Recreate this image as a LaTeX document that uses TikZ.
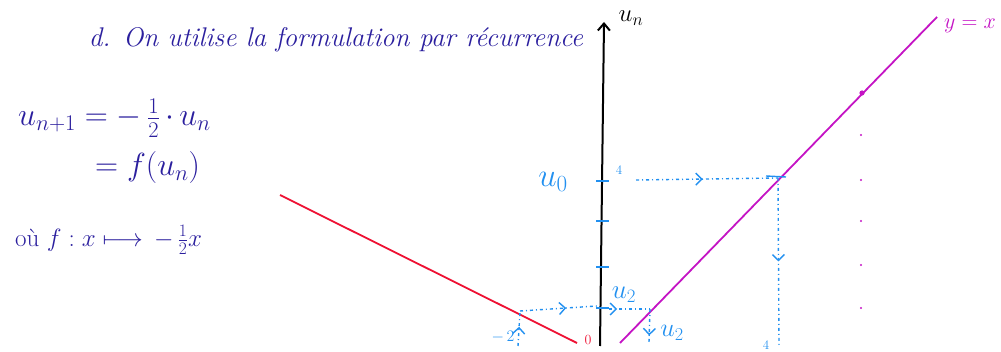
\RequirePackage{fix-cm}
\documentclass[tikz,border=0pt]{standalone}
\usetikzlibrary{arrows.meta,decorations.markings}
\definecolor{ink}{HTML}{2B1F9E}
\definecolor{sky}{HTML}{2290F0}
\definecolor{redl}{HTML}{EE1133}
\definecolor{mag}{HTML}{C414C4}
\tikzset{
  title/.style={text=ink,font=\fontsize{27}{31}\selectfont\itshape,inner sep=0pt},
  formula/.style={text=ink,font=\fontsize{32}{36}\selectfont,inner sep=0pt,anchor=west},
  lab/.style={text=sky,font=\fontsize{28}{32}\selectfont,inner sep=0pt},
  smalllab/.style={text=sky,font=\fontsize{13}{15}\selectfont,inner sep=0pt},
  dotline/.style={sky,line width=1.4pt,dash pattern=on 3pt off 3pt on 1pt off 3pt},
  midarrow/.style={postaction={decorate},decoration={markings,mark=at position #1 with {\arrow[sky,line width=1.4pt]{Straight Barb[length=6pt,width=12pt]}}}},
  tick/.style={sky,line width=1.6pt},
  axisline/.style={black,line width=2pt},
}
\begin{document}
\begin{tikzpicture}[x=1pt,y=-1pt]
\useasboundingbox (0,0) rectangle (1001,352);
% title
\node[title] (ttl) at (336,40) {d. On utilise la formulation par récurrence};
% left formulas
\node[formula] (f1) at (18,118) {$u_{n+1} = -\,\frac{1}{2}\,{\cdot}\, u_n$};
\node[formula] (f2) at (95,168) {$= f(u_n)$};
\node[formula,font=\fontsize{25}{29}\selectfont] (f3) at (15,240) {où $f : x \longmapsto \, -\,\frac{1}{2}x$};
% axis
\coordinate (ab) at (600,346);
\coordinate (at) at (604,22);
\draw[axisline,-{Straight Barb[length=7pt,width=12pt]}] (ab) -- (at);
\node[text=black,font=\fontsize{25}{29}\selectfont,inner sep=0pt] (un) at (631,18) {$u_n$};
% ticks
\foreach \y/\n in {181/t4,221/t3,267/t2,308/t1}{
  \coordinate (\n a) at (596,\y);
  \coordinate (\n b) at (609,\y);
  \draw[tick] (\n a) -- (\n b);
}
\node[smalllab] (four) at (619,170) {4};
\node[lab,font=\fontsize{33}{37}\selectfont] (u0) at (553,182) {$u_0$};
\node[lab,font=\fontsize{27}{31}\selectfont] (u2a) at (624,295) {$u_2$};
% red line
\coordinate (r1) at (280,195);
\coordinate (r2) at (577,343);
\draw[redl,line width=1.8pt] (r1) -- (r2);
\node[text=redl,font=\fontsize{14}{16}\selectfont,inner sep=0pt] (zero) at (588,340) {$0$};
% magenta line
\coordinate (m1) at (620,343);
\coordinate (m2) at (937,17);
\draw[mag,line width=1.8pt] (m1) -- (m2);
\node[text=mag,font=\fontsize{22}{26}\selectfont,inner sep=0pt] (yx) at (970,26) {$y = x$};
\fill[mag] (862,93) circle (2.6pt);
\foreach \y in {135,180,221,265,308}{\fill[mag] (861,\y) circle (1.1pt);}
% top cobweb
\coordinate (p1) at (636,180);
\coordinate (p2) at (778,178);
\coordinate (p3) at (779,345);
\draw[dotline,midarrow=0.47] (p1) -- (p2);
\draw[sky,line width=1.4pt] (766,176) -- (786,177);
\draw[dotline,midarrow=0.5] (p2) -- (p3);
\node[smalllab] (four2) at (766,345) {4};
% bottom cobweb
\coordinate (q0) at (518,346);
\coordinate (q1) at (520,311);
\coordinate (q2) at (597,306);
\coordinate (q3) at (609,309);
\coordinate (q4) at (650,309);
\coordinate (q5) at (649,342);
\draw[dotline,midarrow=0.55] (q0) -- (q1);
\draw[dotline,midarrow=0.6] (q1) -- (q2);
\draw[dotline,midarrow=0.2] (q3) -- (q4);
\draw[dotline,midarrow=0.8] (q4) -- (q5);
\node[lab,font=\fontsize{16}{18}\selectfont] (m2lab) at (503,337) {$-\,2$};
\node[lab,font=\fontsize{26}{30}\selectfont] (u2b) at (672,333) {$u_2$};
\end{tikzpicture}
\end{document}
